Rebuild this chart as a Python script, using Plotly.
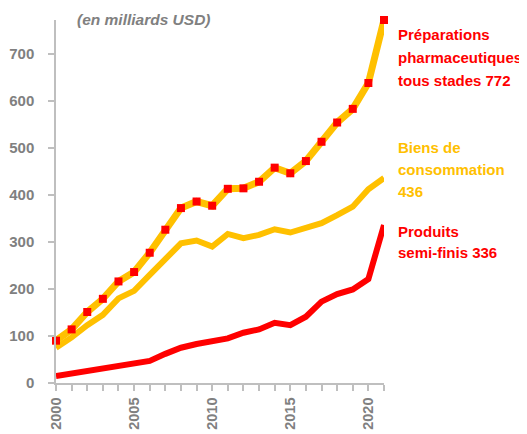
import plotly.graph_objects as go

years = list(range(2000, 2022))
pharma = [90, 114, 151, 179, 216, 236, 277, 326, 372, 386, 377, 413, 414, 428, 458, 446, 472, 513, 554, 583, 638, 772]
biens = [75, 97, 123, 145, 180, 196, 230, 264, 297, 303, 290, 317, 308, 315, 327, 320, 331, 340, 357, 375, 412, 436]
semi = [15, 20, 26, 33, 36, 40, 47, 62, 75, 83, 88, 95, 107, 114, 128, 123, 141, 173, 189, 199, 221, 336]
y_ticks = [0, 100, 200, 300, 400, 500, 600, 700]

RED = "#FF0000"
YEL = "#FFC000"
GRAY = "#808080"
FONT = "Liberation Sans, Arial, sans-serif"

# page body has an 8px margin; plot-area pixel targets (page coords)
PX_L, PX_R, PX_T, PX_B = 56, 384, 20, 383
OFF = 8
W, H = 519, 426

fig = go.Figure()
fig.add_trace(go.Scatter(x=years, y=semi, mode="lines", cliponaxis=False,
                         line=dict(color=RED, width=6), hoverinfo="skip"))
fig.add_trace(go.Scatter(x=years, y=biens, mode="lines", cliponaxis=False,
                         line=dict(color=YEL, width=6), hoverinfo="skip"))
fig.add_trace(go.Scatter(x=years, y=pharma, mode="lines+markers", cliponaxis=False,
                         line=dict(color=YEL, width=7),
                         marker=dict(symbol="square", color=RED, size=8, line=dict(width=0)),
                         hoverinfo="skip"))

fig.update_layout(
    width=W, height=H,
    margin=dict(l=PX_L - OFF, r=W - (PX_R - OFF), t=PX_T - OFF, b=H - (PX_B - OFF)),
    paper_bgcolor="white", plot_bgcolor="white",
    showlegend=False,
    font=dict(family=FONT, color=GRAY, size=15),
    xaxis=dict(range=[2000, 2021], showgrid=False, zeroline=False, automargin=False,
               showline=True, linecolor="#BFBFBF", linewidth=1.5,
               ticks="outside", ticklen=6, tickcolor="#BFBFBF", tickwidth=1.5,
               tickvals=years,
               ticktext=[str(y) if y % 5 == 0 else "" for y in years],
               tickangle=-90,
               tickfont=dict(family=FONT, size=14.5, color=GRAY, weight="bold"),
               ticklabelstandoff=1),
    yaxis=dict(range=[0, 772], showgrid=False, zeroline=False, automargin=False,
               showline=True, linecolor="#BFBFBF", linewidth=1.5,
               ticks="outside", ticklen=6, tickcolor="#BFBFBF", tickwidth=1.5,
               tickvals=y_ticks,
               ticktext=[str(v) for v in y_ticks],
               ticklabelstandoff=11,
               tickfont=dict(family=FONT, size=15, color=GRAY, weight="bold")),
)

lines = [
    ("<i><b>(en milliards USD)</b></i>", 75, 19, GRAY, 15.5),
    ("<b>Préparations</b>", 396, 35, RED, 15),
    ("<b>pharmaceutiques</b>", 396, 57, RED, 15),
    ("<b>tous stades 772</b>", 396, 80, RED, 15),
    ("<b>Biens de</b>", 396, 147, YEL, 15),
    ("<b>consommation</b>", 396, 169, YEL, 15),
    ("<b>436</b>", 396, 191, YEL, 15),
    ("<b>Produits</b>", 396, 231, RED, 15),
    ("<b>semi-finis 336</b>", 396, 253, RED, 15),
]
for txt, px, py, col, sz in lines:
    fig.add_annotation(
        text=txt, showarrow=False, align="left",
        xref="paper", yref="paper",
        x=(px - PX_L) / (PX_R - PX_L), y=(PX_B - py) / (PX_B - PX_T),
        xanchor="left", yanchor="middle",
        font=dict(family=FONT, size=sz, color=col),
    )

fig.write_html("out.html")
